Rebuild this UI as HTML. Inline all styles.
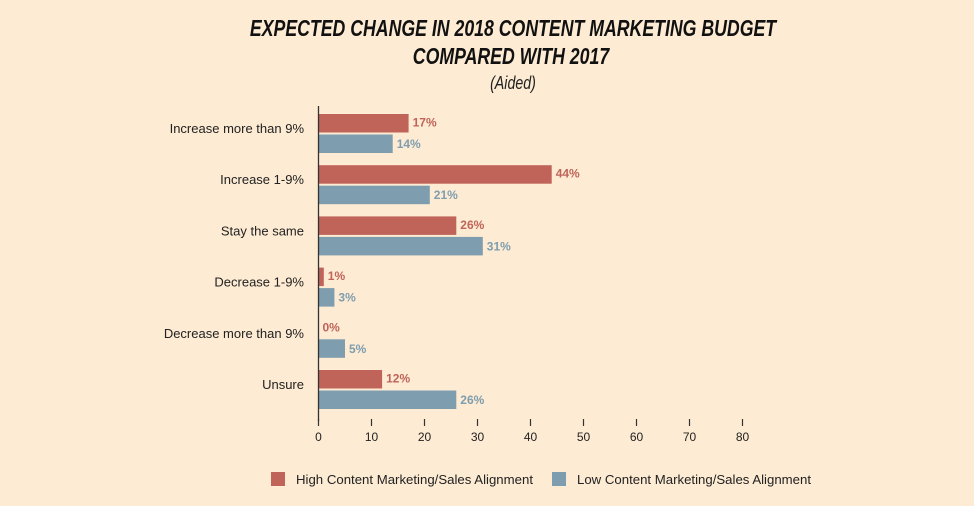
<!DOCTYPE html>
<html><head><meta charset="utf-8"><style>
body{margin:0;background:#fdebd3;}
svg{display:block;font-family:"Liberation Sans",sans-serif;}
</style></head><body>
<svg id="c" width="974" height="506" viewBox="0 0 974 506">
<rect width="974" height="506" fill="#fdebd3"/>
<text x="513" y="36" text-anchor="middle" font-size="23" font-weight="bold" font-style="italic" fill="#111" transform="translate(513 0) scale(0.77 1) translate(-513 0)">EXPECTED CHANGE IN 2018 CONTENT MARKETING BUDGET</text>
<text x="511" y="64" text-anchor="middle" font-size="23" font-weight="bold" font-style="italic" fill="#111" transform="translate(511 0) scale(0.77 1) translate(-511 0)">COMPARED WITH 2017</text>
<text x="513" y="89" text-anchor="middle" font-size="18" font-style="italic" fill="#222" transform="translate(513 0) scale(0.79 1) translate(-513 0)">(Aided)</text>
<g id="plot"></g>
<rect x="271" y="472" width="14" height="14" fill="#c0645a"/>
<text x="296" y="484" font-size="13.3" fill="#222" textLength="237" lengthAdjust="spacingAndGlyphs">High Content Marketing/Sales Alignment</text>
<rect x="552" y="472" width="14" height="14" fill="#7e9daf"/>
<text x="577" y="484" font-size="13.3" fill="#222" textLength="234" lengthAdjust="spacingAndGlyphs">Low Content Marketing/Sales Alignment</text>
</svg>
<script>
const categories=["Increase more than 9%","Increase 1-9%","Stay the same","Decrease 1-9%","Decrease more than 9%","Unsure"];
const highValues=[17,44,26,1,0,12];
const lowValues=[14,21,31,3,5,26];
const ticks=[0,10,20,30,40,50,60,70,80];
const ns="http://www.w3.org/2000/svg";
const g=document.getElementById('plot');
const x0=318.5,pxPer=5.3,top0=114,step=51.2,bh=18.5;
const xs=v=>x0+v*pxPer;
function mk(t,a){const e=document.createElementNS(ns,t);for(const k in a)e.setAttribute(k,a[k]);g.appendChild(e);return e;}
categories.forEach((c,i)=>{
 const y=top0+i*step;
 const r1=mk('rect',{x:x0,y:y,width:xs(highValues[i])-x0,height:bh,fill:'#c0645a'});
 
 
 const r2=mk('rect',{x:x0,y:y+20.5,width:xs(lowValues[i])-x0,height:bh,fill:'#7e9daf'});
 
 
 const t1=mk('text',{x:xs(highValues[i])+4,y:y+12.5,'font-size':12,'font-weight':'bold',fill:'#c0645a'});
 t1.textContent=highValues[i]+'%';
 
 
 const t2=mk('text',{x:xs(lowValues[i])+4,y:y+34,'font-size':12,'font-weight':'bold',fill:'#7e9daf'});
 t2.textContent=lowValues[i]+'%';
 
 
 const cl=mk('text',{x:304,y:y+19,'text-anchor':'end','font-size':13,fill:'#222'});
 cl.textContent=c;
 
 
});
const ax=mk('line',{x1:x0,y1:106,x2:x0,y2:421,stroke:'#333','stroke-width':1.3});


ticks.forEach(t=>{
 const tk=mk('line',{x1:xs(t),y1:419,x2:xs(t),y2:426,stroke:'#333','stroke-width':1.2});
 
 
 const tl=mk('text',{x:xs(t),y:441,'text-anchor':'middle','font-size':12,fill:'#222'});
 tl.textContent=t;
 
 
});
</script>
</body></html>
